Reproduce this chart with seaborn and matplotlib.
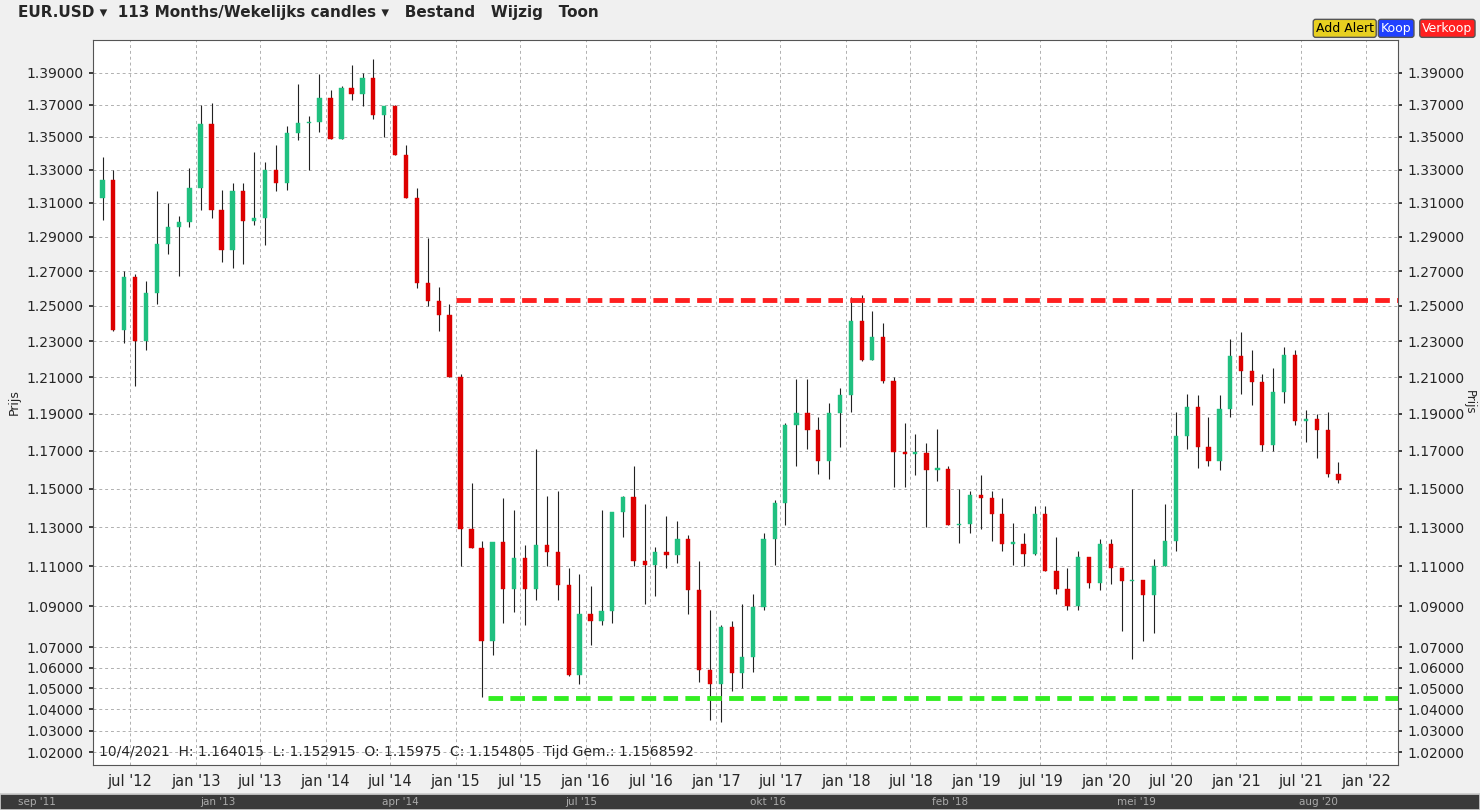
import matplotlib
matplotlib.use("Agg")
import matplotlib.pyplot as plt
from matplotlib.ticker import FixedLocator, NullLocator, FixedFormatter
import seaborn as sns
import numpy as np
import pandas as pd

# monthly candles EUR/USD, Apr 2012 .. Oct 2021
months = pd.date_range("2012-04-01", periods=115, freq="MS") + pd.Timedelta(days=14)
closes = [1.3235, 1.2365, 1.2665, 1.2300, 1.2575, 1.2860, 1.2960, 1.2985, 1.3190,
          1.3580, 1.3060, 1.2820, 1.3170, 1.2995, 1.3010, 1.3300, 1.3220, 1.3525, 1.3585, 1.3590, 1.3745,
          1.3485, 1.3805, 1.3770, 1.3870, 1.3635, 1.3690, 1.3390, 1.3130, 1.2630, 1.2525, 1.2450, 1.2100,
          1.1290, 1.1195, 1.0730, 1.1225, 1.0985, 1.1145, 1.0985, 1.1210, 1.1175, 1.1005, 1.0565, 1.0860,
          1.0830, 1.0875, 1.1380, 1.1455, 1.1130, 1.1105, 1.1175, 1.1160, 1.1240, 1.0980, 1.0590, 1.0520,
          1.0800, 1.0575, 1.0650, 1.0895, 1.1240, 1.1425, 1.1840, 1.1905, 1.1815, 1.1645, 1.1905, 1.2005,
          1.2415, 1.2195, 1.2325, 1.2080, 1.1695, 1.1685, 1.1690, 1.1600, 1.1605, 1.1310, 1.1315, 1.1465,
          1.1450, 1.1370, 1.1215, 1.1215, 1.1165, 1.1370, 1.1075, 1.0985, 1.0900, 1.1150, 1.1015, 1.1215,
          1.1090, 1.1025, 1.1030, 1.0955, 1.1100, 1.1230, 1.1780, 1.1935, 1.1720, 1.1645, 1.1925, 1.2215,
          1.2135, 1.2075, 1.1730, 1.2020, 1.2225, 1.1860, 1.1870, 1.1810, 1.1580, 1.1548]
highs = [1.338, 1.330, 1.270, 1.268, 1.264, 1.317, 1.310, 1.302, 1.331,
         1.370, 1.371, 1.318, 1.322, 1.322, 1.341, 1.335, 1.345, 1.357, 1.383, 1.363, 1.389,
         1.379, 1.382, 1.395, 1.390, 1.399, 1.369, 1.370, 1.345, 1.319, 1.289, 1.261, 1.251,
         1.212, 1.153, 1.123, 1.122, 1.145, 1.139, 1.121, 1.171, 1.146, 1.149, 1.109, 1.106,
         1.100, 1.139, 1.138, 1.146, 1.162, 1.142, 1.120, 1.136, 1.133, 1.126, 1.113, 1.088,
         1.081, 1.083, 1.091, 1.096, 1.127, 1.144, 1.185, 1.209, 1.209, 1.188, 1.196, 1.204,
         1.255, 1.256, 1.247, 1.240, 1.210, 1.185, 1.179, 1.174, 1.182, 1.162, 1.150, 1.149,
         1.157, 1.149, 1.145, 1.132, 1.127, 1.141, 1.141, 1.125, 1.109, 1.118, 1.109, 1.124,
         1.124, 1.109, 1.150, 1.101, 1.114, 1.142, 1.191, 1.201, 1.200, 1.188, 1.200, 1.231,
         1.235, 1.225, 1.212, 1.215, 1.227, 1.225, 1.192, 1.190, 1.191, 1.164]
lows = [1.300, 1.236, 1.229, 1.205, 1.225, 1.251, 1.280, 1.267, 1.296,
        1.306, 1.301, 1.275, 1.272, 1.274, 1.297, 1.285, 1.317, 1.318, 1.348, 1.330, 1.353,
        1.351, 1.349, 1.373, 1.369, 1.361, 1.350, 1.339, 1.314, 1.260, 1.250, 1.236, 1.210,
        1.110, 1.126, 1.046, 1.066, 1.082, 1.087, 1.081, 1.093, 1.110, 1.093, 1.056, 1.052,
        1.071, 1.081, 1.082, 1.125, 1.110, 1.091, 1.095, 1.109, 1.112, 1.086, 1.053, 1.035,
        1.034, 1.049, 1.050, 1.058, 1.088, 1.111, 1.131, 1.162, 1.171, 1.158, 1.155, 1.172,
        1.191, 1.219, 1.221, 1.207, 1.151, 1.151, 1.157, 1.130, 1.154, 1.132, 1.122, 1.127,
        1.129, 1.123, 1.118, 1.111, 1.110, 1.116, 1.110, 1.096, 1.088, 1.088, 1.099, 1.098,
        1.101, 1.078, 1.064, 1.073, 1.077, 1.110, 1.118, 1.171, 1.161, 1.162, 1.160, 1.188,
        1.201, 1.195, 1.170, 1.170, 1.196, 1.184, 1.175, 1.166, 1.156, 1.153]
first_open = 1.3130

resistance = 1.2535
support = 1.0455
res_start, sup_start = "2015-01-01", "2015-04-01"

ytick_vals = [1.02, 1.03, 1.04, 1.05, 1.06, 1.07] + [round(1.09 + 0.02 * i, 2) for i in range(16)]
xtick_dates = pd.date_range("2012-07-01", "2022-01-01", freq="6MS")
xtick_labels = [d.strftime("%b '%y").lower() for d in xtick_dates]

df = pd.DataFrame({"date": months, "close": closes, "high": highs, "low": lows})
df["open"] = [first_open] + closes[:-1]
df["high"] = np.maximum(df["high"], df[["open", "close"]].max(axis=1))
df["low"] = np.minimum(df["low"], df[["open", "close"]].min(axis=1))
df["up"] = df["close"] >= df["open"]

sns.set_theme(style="whitegrid")
plt.rcParams["font.family"] = ["DejaVu Sans"]

fig = plt.figure(figsize=(14.8, 8.1), dpi=100)
fig.patch.set_facecolor("#f0f0f0")
ax = fig.add_axes([0.0628, 0.0556, 0.882, 0.895])
ax.set_facecolor("white")

up_c, dn_c = "#20c080", "#dd0000"
for up, color in [(True, up_c), (False, dn_c)]:
    sub = df[df["up"] == up]
    ax.vlines(sub["date"], sub["low"], sub["high"], color="#222222", linewidth=0.8, zorder=2)
    ax.bar(sub["date"], (sub["close"] - sub["open"]).abs().clip(lower=0.0008),
           bottom=sub[["open", "close"]].min(axis=1), width=12, color=color,
           edgecolor=color, linewidth=0.3, zorder=3)

xmin, xmax = pd.Timestamp("2012-03-19"), pd.Timestamp("2022-04-01")
lines = pd.DataFrame({
    "date": [pd.Timestamp(res_start), xmax, pd.Timestamp(sup_start), xmax],
    "y": [resistance, resistance, support, support],
    "kind": ["res", "res", "sup", "sup"],
})
sns.lineplot(data=lines, x="date", y="y", hue="kind", palette={"res": "#ff2020", "sup": "#33ee22"},
             linewidth=3.5, linestyle=(0, (3, 1.5)), legend=False, ax=ax, zorder=4)

ax.set_yscale("log")
ax.set_ylim(1.0140, 1.411)
ax.set_xlim(xmin, xmax)
ax.yaxis.set_major_locator(FixedLocator(ytick_vals))
ax.yaxis.set_minor_locator(NullLocator())
ax.yaxis.set_major_formatter(FixedFormatter([f"{v:.5f}" for v in ytick_vals]))
ax.tick_params(axis="y", which="both", labelright=True, right=True, left=True, labelsize=10, length=3)
ax.set_xticks(xtick_dates)
ax.set_xticklabels(xtick_labels, fontsize=10.5)
ax.tick_params(axis="x", length=3)
ax.grid(True, color="#b0b0b0", linestyle=(0, (3, 3)), linewidth=0.7)
ax.set_xlabel("")
ax.set_ylabel("Prijs", fontsize=9)
ax.text(1.0495, 0.5, "Prijs", rotation=270, transform=ax.transAxes, fontsize=8.5, va="center")
for s in ax.spines.values():
    s.set_color("#555555")
    s.set_linewidth(0.8)

ax.text(0.005, 0.008, "10/4/2021  H: 1.164015  L: 1.152915  O: 1.15975  C: 1.154805  Tijd Gem.: 1.1568592",
        transform=ax.transAxes, fontsize=10, va="bottom")

# top menu strip
fig.text(0.012, 0.985, "EUR.USD \u25be  113 Months/Wekelijks candles \u25be   Bestand   Wijzig   Toon",
         fontsize=11, va="center", fontweight="bold")
for x, label, c in [(0.889, "Add Alert", "#e8d020"), (0.933, "Koop", "#2040ff"), (0.961, "Verkoop", "#ff2020")]:
    fig.text(x, 0.965, label, fontsize=9, va="center",
             color="black" if label == "Add Alert" else "white",
             bbox=dict(boxstyle="round,pad=0.2", fc=c, ec="#555555"))

# bottom navigator strip
nav = fig.add_axes([0.0, 0.0, 1.0, 0.02])
nav.set_facecolor("#3a3a3a")
nav.set_xticks([]); nav.set_yticks([])
for x, label in [(0.012, "sep '11"), (0.135, "jan '13"), (0.258, "apr '14"), (0.382, "jul '15"),
                 (0.507, "okt '16"), (0.63, "feb '18"), (0.755, "mei '19"), (0.878, "aug '20")]:
    nav.text(x, 0.5, label, color="#aaaaaa", fontsize=7.5, va="center", transform=nav.transAxes)

fig.savefig("out.png", dpi=100, facecolor=fig.get_facecolor())
